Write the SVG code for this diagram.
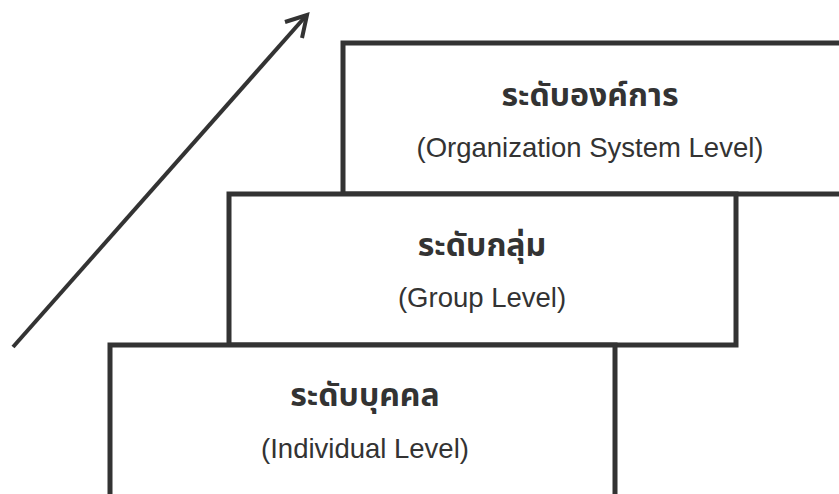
<svg xmlns="http://www.w3.org/2000/svg" width="839" height="494" viewBox="0 0 839 494">
<defs>
<style>
.box{fill:#fff;stroke:#333;stroke-width:5}
.th{font-family:"Noto Sans Thai","Noto Sans","DejaVu Sans",sans-serif;font-size:32px;font-weight:bold;fill:#333;text-anchor:middle}
.en{font-family:"Liberation Sans",Arial,sans-serif;font-size:27.5px;fill:#333;text-anchor:middle}
.ln{fill:none;stroke:#333;stroke-width:4}
</style>
</defs>
<rect width="839" height="494" fill="#fff"/>
<g id="org">
<rect class="box" x="343" y="43" width="520" height="151"/>
<text class="th" x="590" y="106">ระดับองค์การ</text>
<text class="en" x="590" y="157">(Organization System Level)</text>
</g>
<g id="group">
<rect class="box" x="229" y="194" width="507" height="151"/>
<text class="th" x="482" y="256">ระดับกลุ่ม</text>
<text class="en" x="482" y="307">(Group Level)</text>
</g>
<g id="individual">
<rect class="box" x="110" y="345" width="505" height="170"/>
<text class="th" x="365" y="406">ระดับบุคคล</text>
<text class="en" x="365" y="458">(Individual Level)</text>
</g>
<g id="connectors">
<line class="ln" x1="13" y1="347" x2="305" y2="17"/>
<path class="ln" d="M285,22 L307,15 L302,38" stroke-linejoin="miter"/>
</g>
</svg>
